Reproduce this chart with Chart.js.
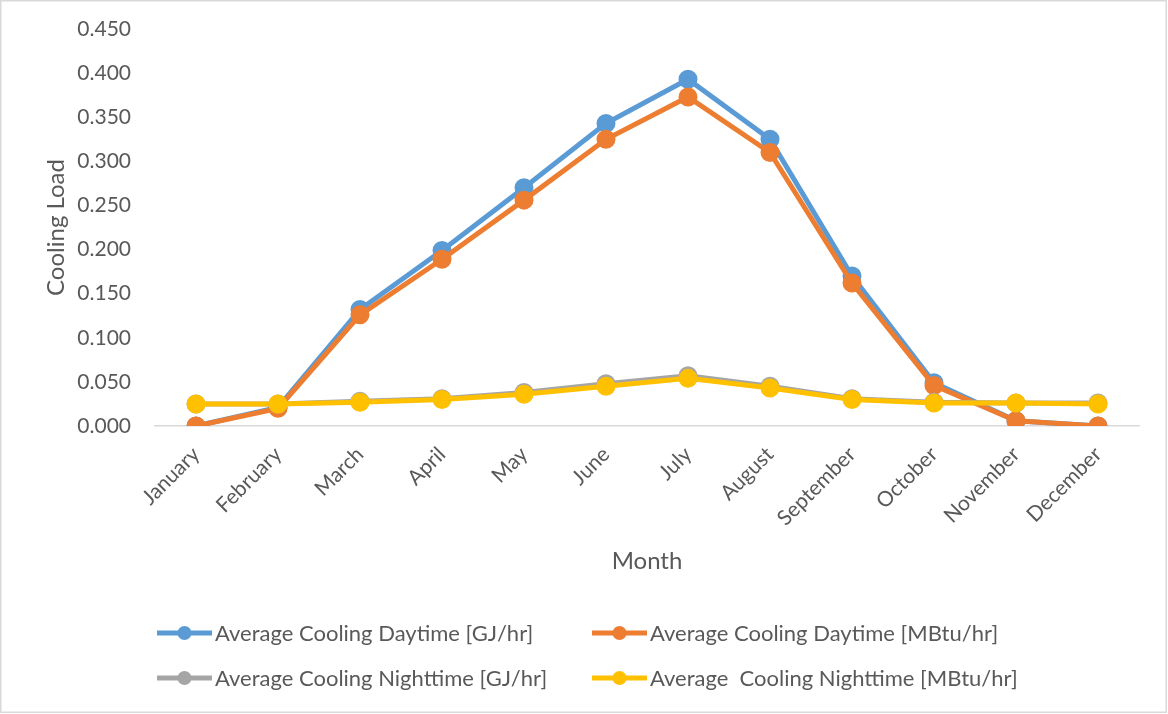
<!DOCTYPE html>
<html>
<head>
<meta charset="utf-8">
<script src="https://cdn.jsdelivr.net/npm/chart.js@4/dist/chart.umd.min.js"></script>
<style>
  html, body { margin: 0; padding: 0; background: #fff; }
  #wrap { width: 1168px; height: 714px; position: relative; }
</style>
</head>
<body>
<div id="wrap"><canvas id="c" width="1168" height="714"></canvas></div>
<script>
// Monthly average cooling loads
const months = ['January','February','March','April','May','June','July','August','September','October','November','December'];
const dayGJ    = [0.000, 0.021, 0.132, 0.199, 0.270, 0.343, 0.393, 0.325, 0.170, 0.049, 0.006, 0.000];
const dayMBtu  = [0.000, 0.020, 0.126, 0.189, 0.256, 0.325, 0.373, 0.310, 0.162, 0.046, 0.006, 0.000];
const nightGJ  = [0.025, 0.025, 0.028, 0.031, 0.038, 0.048, 0.057, 0.045, 0.031, 0.027, 0.026, 0.026];
const nightMBtu= [0.025, 0.025, 0.027, 0.030, 0.036, 0.045, 0.054, 0.043, 0.030, 0.026, 0.026, 0.025];
const yTicks = [0, 0.05, 0.1, 0.15, 0.2, 0.25, 0.3, 0.35, 0.4, 0.45];

const FONT = 'Lato, "Open Sans", sans-serif';
const TEXT = '#595959';

function series(label, data, color, order) {
  return {
    label, data, order,
    borderColor: color, backgroundColor: color,
    pointBackgroundColor: color, pointBorderColor: color,
    borderWidth: 5, pointRadius: 7, pointHoverRadius: 7,
    tension: 0, fill: false
  };
}

// Frame around the whole chart plus a two-column legend underneath
const frameAndLegend = {
  id: 'frameAndLegend',
  afterDraw(chart) {
    const ctx = chart.ctx;
    ctx.save();
    ctx.strokeStyle = '#d9d9d9';
    ctx.lineWidth = 1.5;
    ctx.strokeRect(0.75, 0.75, chart.width - 2.5, chart.height - 2.5);

    const cols = [157, 592];
    const rows = [633, 678];
    ctx.font = '22px ' + FONT;
    ctx.textBaseline = 'middle';
    ctx.textAlign = 'left';
    chart.data.datasets.forEach((ds, i) => {
      const x = cols[i % 2];
      const y = rows[Math.floor(i / 2)];
      ctx.strokeStyle = ds.borderColor;
      ctx.lineWidth = 5;
      ctx.lineCap = 'butt';
      ctx.beginPath();
      ctx.moveTo(x, y);
      ctx.lineTo(x + 55, y);
      ctx.stroke();
      ctx.fillStyle = ds.borderColor;
      ctx.beginPath();
      ctx.arc(x + 27.5, y, 7, 0, Math.PI * 2);
      ctx.fill();
      ctx.fillStyle = TEXT;
      ctx.fillText(ds.label, x + 58, y + 1);
    });
    ctx.restore();
  }
};

new Chart(document.getElementById('c'), {
  type: 'line',
  data: {
    labels: months,
    datasets: [
      series('Average Cooling Daytime [GJ/hr]', dayGJ, '#5B9BD5', 4),
      series('Average Cooling Daytime [MBtu/hr]', dayMBtu, '#ED7D31', 3),
      series('Average Cooling Nighttime [GJ/hr]', nightGJ, '#A5A5A5', 2),
      series('Average  Cooling Nighttime [MBtu/hr]', nightMBtu, '#FFC000', 1)
    ]
  },
  options: {
    responsive: false,
    animation: false,
    layout: { autoPadding: false, padding: { top: 29, right: 29, left: 0, bottom: 134 } },
    plugins: { legend: { display: false }, tooltip: { enabled: false } },
    scales: {
      x: {
        offset: true,
        grid: { display: false, drawTicks: false, offset: true },
        border: { display: true, color: '#d9d9d9', width: 1.5 },
        ticks: {
          color: TEXT, font: { family: FONT, size: 21 },
          minRotation: 45, maxRotation: 45, padding: 16, autoSkip: false
        },
        title: {
          display: true, text: 'Month', color: TEXT,
          font: { family: FONT, size: 24 }, padding: { top: 0, bottom: 4 }
        },
        afterFit(scale) { scale.height = 154; scale.paddingTop = 0; }
      },
      y: {
        min: 0, max: 0.45,
        grid: { display: false, drawTicks: false },
        border: { display: false },
        afterBuildTicks(scale) { scale.ticks = yTicks.map(v => ({ value: v })); },
        ticks: {
          color: TEXT, font: { family: FONT, size: 21 }, padding: 24,
          callback: v => Number(v).toFixed(3)
        },
        title: {
          display: true, text: 'Cooling Load', color: TEXT,
          font: { family: FONT, size: 24 }, padding: { top: 42, bottom: 0 }
        },
        afterFit(scale) { scale.width = 155; scale.paddingTop = 0; scale.paddingBottom = 0; }
      }
    }
  },
  plugins: [frameAndLegend]
});
</script>
</body>
</html>
